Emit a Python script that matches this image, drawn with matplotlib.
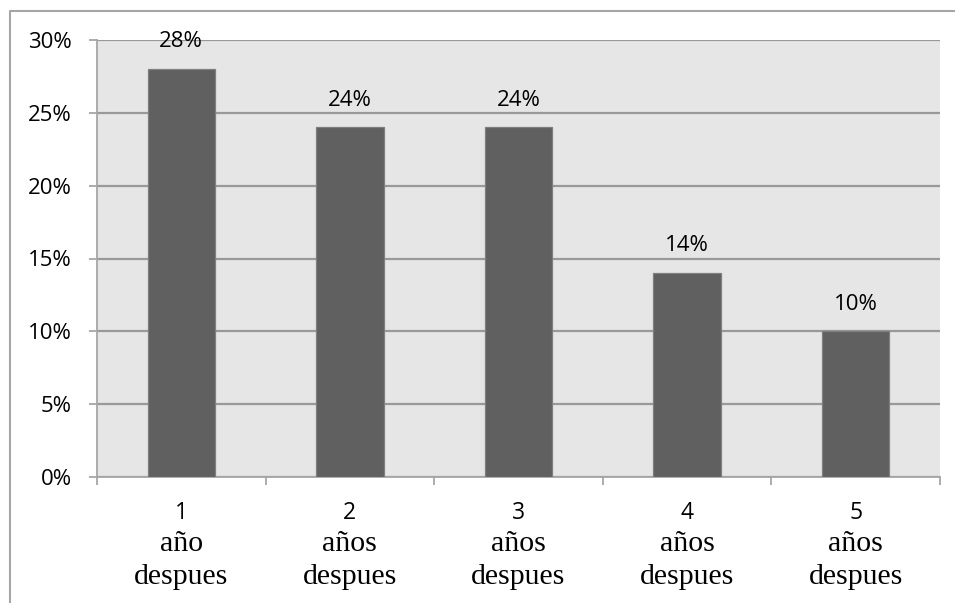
"""Bar chart: share of respondents by years after, with value labels."""

import matplotlib

matplotlib.use("Agg")
import matplotlib.pyplot as plt
from matplotlib.lines import Line2D
from matplotlib.ticker import FuncFormatter, MultipleLocator

# --- data ---
YEARS = ["1", "2", "3", "4", "5"]
CAPTIONS = ["año\ndespues", "años\ndespues", "años\ndespues",
            "años\ndespues", "años\ndespues"]
VALUES = [28, 24, 24, 14, 10]  # percent

# --- style ---
PLOT_BG = "#E6E6E6"
BAR = "#606060"
BAR_EDGE = "#7F7F7F"
GRID = "#999999"
FRAME = "#A6A6A6"
SANS = "Open Sans"
SERIF = "Liberation Serif"

fig = plt.figure(figsize=(9.55, 6.03), dpi=100)
ax = fig.add_axes([97 / 955, 126 / 603, 843 / 955, 437 / 603])
ax.set_facecolor(PLOT_BG)

x = list(range(len(VALUES)))
bars = ax.bar(x, VALUES, width=0.4, color=BAR, edgecolor=BAR_EDGE,
              linewidth=0.9, zorder=3)

for b, v in zip(bars, VALUES):
    ax.annotate(f"{v}%", (b.get_x() + b.get_width() / 2, v),
                xytext=(0, 12), textcoords="offset points", ha="center",
                va="bottom", fontsize=16, family=SANS, color="black",
                zorder=4)

ax.set_xlim(-0.5, len(VALUES) - 0.5)
ax.set_ylim(0, 30)
ax.yaxis.set_major_locator(MultipleLocator(5))
ax.yaxis.set_major_formatter(FuncFormatter(lambda v, _: f"{v:.0f}%"))
ax.yaxis.grid(True, color=GRID, linewidth=1.6, zorder=0)
ax.set_axisbelow(True)

# year number as the tick label, caption in serif underneath
ax.set_xticks(x)
ax.set_xticklabels(YEARS, family=SANS, fontsize=16.5)
ax.tick_params(axis="x", which="major", length=0, pad=17)
for i, cap in zip(x, CAPTIONS):
    ax.annotate(cap, (i, 0), xycoords=("data", "axes fraction"),
                xytext=(0, -39), textcoords="offset points", ha="center",
                va="top", fontsize=21.5, family=SERIF, linespacing=1.33,
                annotation_clip=False)

ax.set_xticks([i - 0.5 for i in range(len(VALUES) + 1)], minor=True)
ax.tick_params(axis="x", which="minor", length=6, width=1.3, color=FRAME,
               direction="out")

ax.tick_params(axis="y", length=6, width=1.3, color=FRAME, pad=12,
               labelsize=16)
for lab in ax.get_yticklabels():
    lab.set_family(SANS)

for side in ("top", "right"):
    ax.spines[side].set_visible(False)
for side in ("left", "bottom"):
    ax.spines[side].set_color(FRAME)
    ax.spines[side].set_linewidth(1.3)

# chart-area frame (left and top edges)
fig.add_artist(Line2D([9.5 / 955, 9.5 / 955, 1.0], [0.0, 1 - 10.5 / 603, 1 - 10.5 / 603],
                      transform=fig.transFigure, color=FRAME, linewidth=1.5))

fig.savefig("out.png", dpi=100, facecolor="white")
